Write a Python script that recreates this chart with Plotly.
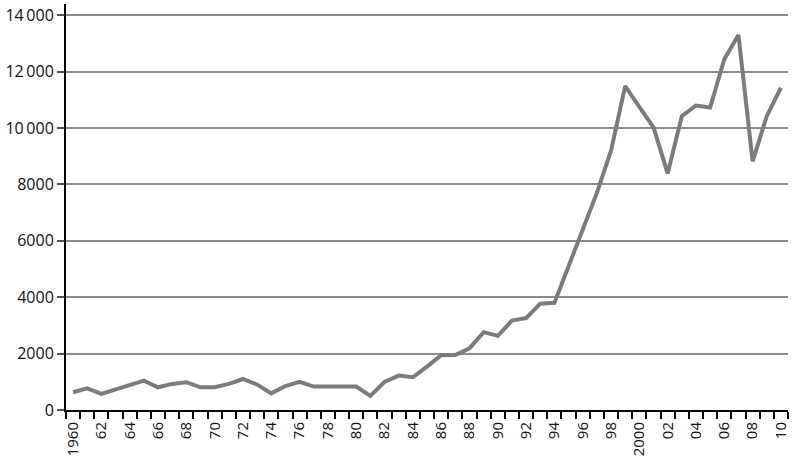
import plotly.graph_objects as go

# annual series, 1960-2010
years = list(range(1960, 2011))
values = [630, 770, 570, 735, 890, 1040, 805, 925, 985, 805,
          805, 925, 1100, 900, 590, 850, 1000, 830, 830, 830,
          830, 500, 1000, 1220, 1160, 1540, 1940, 1950, 2190, 2760,
          2630, 3170, 3260, 3770, 3800, 5100, 6400, 7700, 9200, 11490,
          10750, 10020, 8390, 10420, 10800, 10730, 12440, 13300, 8820, 10420,
          11430]

x_tick_years = years[::2]
x_tick_labels = ['1960', '62', '64', '66', '68', '70', '72', '74', '76', '78',
                 '80', '82', '84', '86', '88', '90', '92', '94', '96', '98',
                 '2000', '02', '04', '06', '08', '10']

y_tick_vals = [0, 2000, 4000, 6000, 8000, 10000, 12000, 14000]
y_tick_labels = ['0', '2000', '4000', '6000', '8000',
                 '10\u2009000', '12\u2009000', '14\u2009000']

fig = go.Figure(go.Scatter(
    x=years, y=values, mode='lines',
    line=dict(color='#7b7b7b', width=4),
    hoverinfo='skip'))

fig.update_layout(
    width=800, height=468,
    margin=dict(l=66, r=12, t=4, b=58),
    paper_bgcolor='white', plot_bgcolor='white',
    font=dict(family='Open Sans', size=16, color='#111111'),
    showlegend=False)

fig.update_xaxes(
    range=[1959.5, 2010.5], automargin=False,
    tickvals=x_tick_years, ticktext=x_tick_labels,
    tickangle=-90, tickfont=dict(size=15), ticklabelstandoff=4,
    ticks='', showgrid=False, zeroline=False,
    showline=True, linecolor='black', linewidth=2,
    minor=dict(tick0=1959.5, dtick=1, ticks='outside', ticklen=7,
               tickcolor='black', tickwidth=2, showgrid=False))

fig.update_yaxes(
    range=[0, 14400], automargin=False,
    tickvals=y_tick_vals, ticktext=y_tick_labels,
    ticks='outside', ticklen=7, tickcolor='#555555', tickwidth=1.5,
    showgrid=True, gridcolor='#8a8a8a', gridwidth=1.5,
    zeroline=False,
    showline=True, linecolor='black', linewidth=2)

# drop the default page margin so the figure sits at the window corner
fig.write_html("out.html", config={'displayModeBar': False},
               post_script="document.body.style.margin='0';")
